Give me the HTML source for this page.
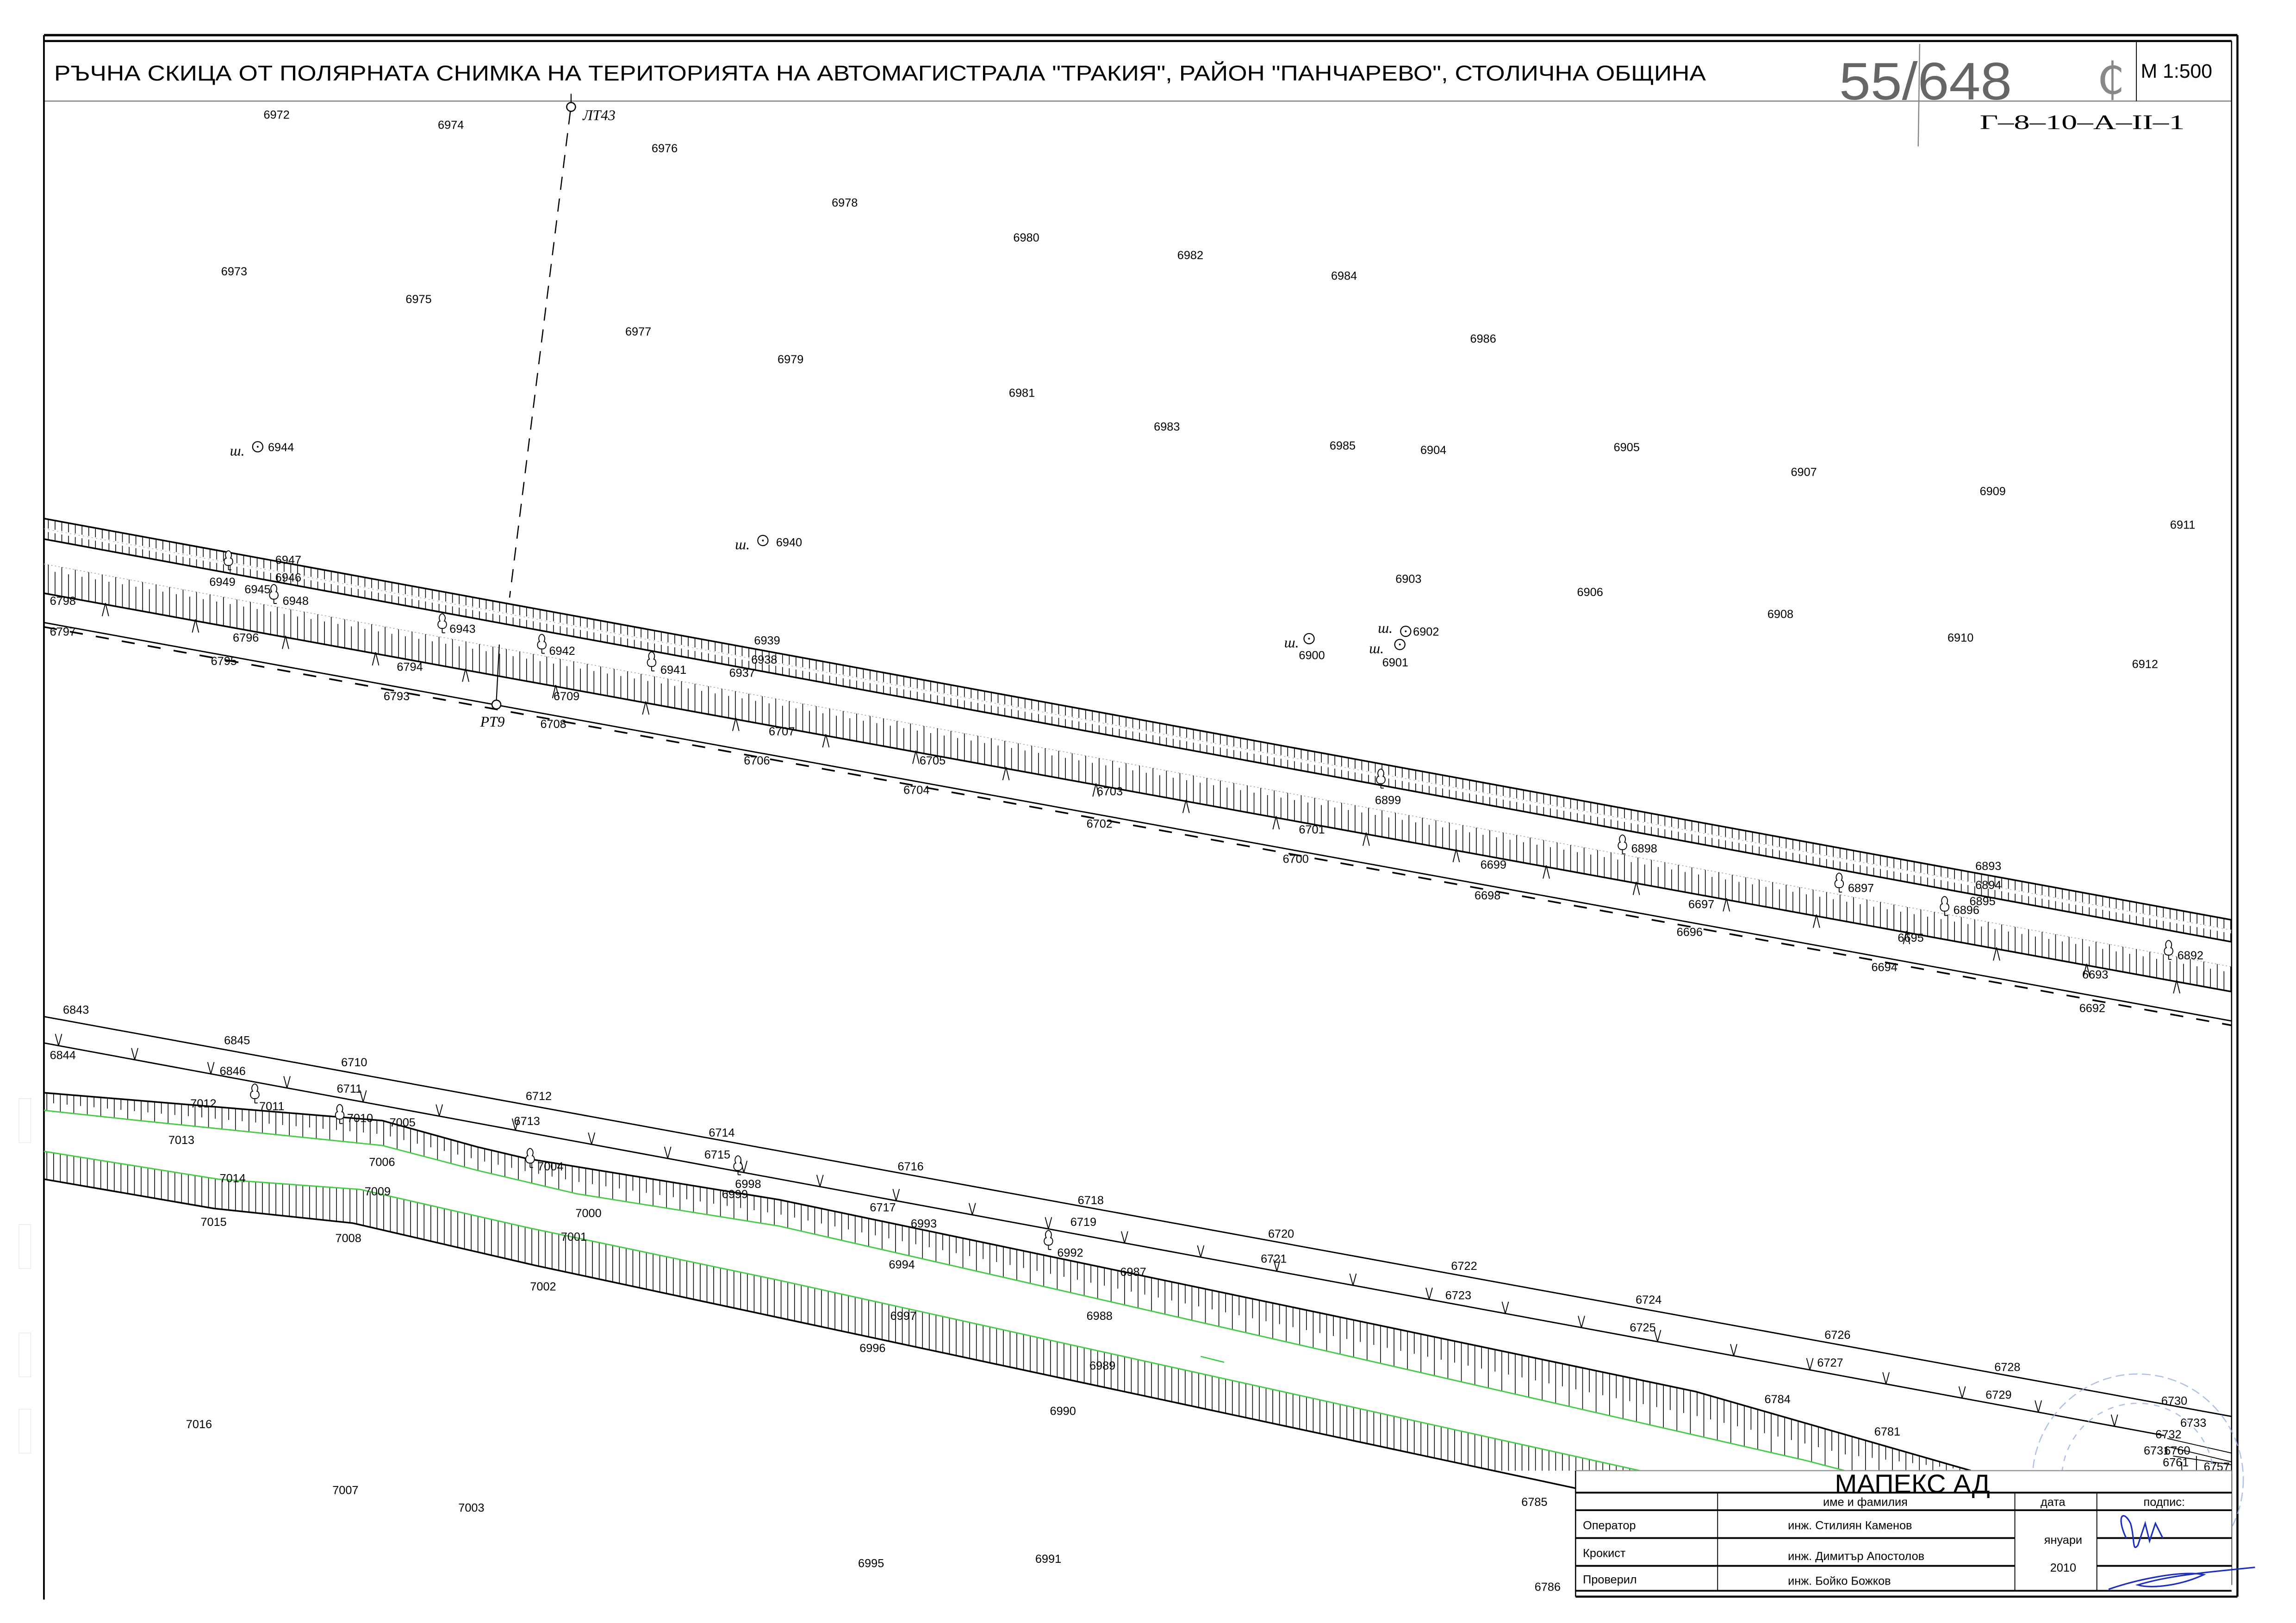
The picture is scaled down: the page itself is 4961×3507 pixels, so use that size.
<!DOCTYPE html>
<html><head><meta charset="utf-8"><style>
html,body{margin:0;padding:0;background:#fff;}
svg{display:block;}
.l{font-family:"Liberation Sans Narrow","Liberation Sans",sans-serif;font-size:8px;fill:#000;}
.i{font-family:"Liberation Serif",serif;font-style:italic;font-size:10px;fill:#000;}
</style></head><body>
<svg id="s" width="4961" height="3507" viewBox="0 0 1568 1108" preserveAspectRatio="none" xmlns="http://www.w3.org/2000/svg">
<rect width="1568" height="1108" fill="#fff"/>
<g stroke="#000" fill="none">
<line x1="30" y1="24" x2="1528" y2="24" stroke-width="1.6"/>
<line x1="30" y1="28" x2="1524" y2="28" stroke-width="1.4"/>
<line x1="30" y1="69" x2="1524" y2="69" stroke="#999" stroke-width="1"/>
<line x1="30" y1="24" x2="30" y2="1092" stroke-width="1.2"/>
<line x1="1524" y1="28" x2="1524" y2="1082" stroke-width="0.8"/>
<line x1="1528" y1="24" x2="1528" y2="1090" stroke-width="1.4"/>
<line x1="1459" y1="28" x2="1459" y2="69" stroke-width="0.6"/>
<line x1="1311" y1="30" x2="1310" y2="100" stroke="#888" stroke-width="0.8"/>
</g>
<text x="37" y="55" font-family="Liberation Sans,sans-serif" font-size="14.5" textLength="1128" lengthAdjust="spacingAndGlyphs">РЪЧНА  СКИЦА ОТ ПОЛЯРНАТА СНИМКА НА ТЕРИТОРИЯТА НА АВТОМАГИСТРАЛА "ТРАКИЯ", РАЙОН "ПАНЧАРЕВО", СТОЛИЧНА ОБЩИНА</text>
<text x="1256" y="68" font-family="Liberation Sans Narrow,Liberation Sans,sans-serif" font-size="36" fill="#666" textLength="118" lengthAdjust="spacingAndGlyphs">55/648</text>
<text x="1432" y="64" font-family="DejaVu Sans,sans-serif" font-size="30" fill="#888">₵</text>
<text x="1462" y="53" font-family="Liberation Sans,sans-serif" font-size="13.5">M 1:500</text>
<text x="1352" y="88" font-family="Liberation Serif,serif" font-size="14" textLength="140" lengthAdjust="spacingAndGlyphs">Г–8–10–А–II–1</text>

<g id="gen"></g>

<circle cx="390" cy="73" r="3" fill="#fff" stroke="#000" stroke-width="0.8"/>
<line x1="390" y1="64" x2="390" y2="70" stroke="#000" stroke-width="0.7"/>
<line x1="389.5" y1="76" x2="348" y2="408" stroke="#000" stroke-width="0.8" stroke-dasharray="9 6"/>
<text class="i" x="398" y="82">ЛТ43</text>
<line x1="341" y1="440" x2="339" y2="478" stroke="#000" stroke-width="0.7"/>
<circle cx="339" cy="481" r="3" fill="#fff" stroke="#000" stroke-width="0.8"/>
<text class="i" x="328" y="496">РТ9</text>

<g class="l">
<text x="180" y="81">6972</text><text x="299" y="88">6974</text><text x="445" y="104">6976</text>
<text x="568" y="141">6978</text><text x="692" y="165">6980</text><text x="804" y="177">6982</text>
<text x="909" y="191">6984</text><text x="151" y="188">6973</text><text x="277" y="207">6975</text>
<text x="427" y="229">6977</text><text x="531" y="248">6979</text><text x="689" y="271">6981</text>
<text x="788" y="294">6983</text><text x="1004" y="234">6986</text><text x="908" y="307">6985</text>
<text x="970" y="310">6904</text><text x="1102" y="308">6905</text><text x="1223" y="325">6907</text>
<text x="1352" y="338">6909</text><text x="1482" y="361">6911</text>
<text x="183" y="308">6944</text><text x="530" y="373">6940</text>
<text x="953" y="398">6903</text><text x="1077" y="407">6906</text><text x="1207" y="422">6908</text>
<text x="1330" y="438">6910</text><text x="1456" y="456">6912</text>
<text x="965" y="434">6902</text><text x="887" y="450">6900</text><text x="944" y="455">6901</text>

<text x="188" y="385">6947</text><text x="188" y="397">6946</text><text x="143" y="400">6949</text>
<text x="167" y="405">6945</text><text x="193" y="413">6948</text><text x="34" y="413">6798</text>
<text x="34" y="434">6797</text><text x="159" y="438">6796</text><text x="144" y="454">6795</text>
<text x="307" y="432">6943</text><text x="271" y="458">6794</text><text x="375" y="447">6942</text>
<text x="262" y="478">6793</text><text x="378" y="478">6709</text><text x="369" y="497">6708</text>
<text x="451" y="460">6941</text><text x="515" y="440">6939</text><text x="513" y="453">6938</text>
<text x="498" y="462">6937</text><text x="525" y="502">6707</text><text x="508" y="522">6706</text>
<text x="628" y="522">6705</text><text x="617" y="542">6704</text><text x="749" y="543">6703</text>
<text x="742" y="565">6702</text><text x="939" y="549">6899</text><text x="887" y="569">6701</text>
<text x="876" y="589">6700</text><text x="1114" y="582">6898</text><text x="1011" y="593">6699</text>
<text x="1007" y="614">6698</text><text x="1153" y="620">6697</text><text x="1145" y="639">6696</text>
<text x="1349" y="594">6893</text><text x="1349" y="607">6894</text><text x="1345" y="618">6895</text>
<text x="1262" y="609">6897</text><text x="1334" y="624">6896</text><text x="1296" y="643">6695</text>
<text x="1278" y="663">6694</text><text x="1422" y="668">6693</text><text x="1487" y="655">6892</text>
<text x="1420" y="691">6692</text>

<text x="43" y="692">6843</text><text x="34" y="723">6844</text><text x="153" y="713">6845</text>
<text x="150" y="734">6846</text><text x="233" y="728">6710</text><text x="230" y="746">6711</text>
<text x="130" y="756">7012</text><text x="177" y="758">7011</text><text x="237" y="766">7010</text>
<text x="266" y="769">7005</text><text x="115" y="781">7013</text><text x="359" y="751">6712</text>
<text x="351" y="768">6713</text><text x="367" y="799">7004</text><text x="252" y="796">7006</text>
<text x="484" y="776">6714</text><text x="481" y="791">6715</text><text x="502" y="811">6998</text>
<text x="493" y="818">6999</text><text x="150" y="807">7014</text><text x="249" y="816">7009</text>
<text x="393" y="831">7000</text><text x="613" y="799">6716</text><text x="594" y="827">6717</text>
<text x="622" y="838">6993</text><text x="137" y="837">7015</text><text x="229" y="848">7008</text>
<text x="383" y="847">7001</text><text x="736" y="822">6718</text><text x="731" y="837">6719</text>
<text x="722" y="858">6992</text><text x="607" y="866">6994</text><text x="362" y="881">7002</text>
<text x="765" y="871">6987</text><text x="866" y="845">6720</text><text x="861" y="862">6721</text>
<text x="742" y="901">6988</text><text x="991" y="867">6722</text><text x="987" y="887">6723</text>
<text x="1117" y="890">6724</text><text x="1113" y="909">6725</text><text x="608" y="901">6997</text>
<text x="587" y="923">6996</text><text x="744" y="935">6989</text><text x="717" y="966">6990</text>
<text x="1246" y="914">6726</text><text x="1241" y="933">6727</text><text x="1362" y="936">6728</text>
<text x="1356" y="955">6729</text><text x="1205" y="958">6784</text><text x="1280" y="980">6781</text>
<text x="1476" y="959">6730</text><text x="1489" y="974">6733</text><text x="1472" y="982">6732</text>
<text x="1464" y="993">6731</text><text x="1478" y="993">6760</text><text x="1477" y="1001">6761</text>
<text x="1505" y="1004">6757</text>
<text x="1039" y="1028">6785</text><text x="1048" y="1086">6786</text><text x="127" y="975">7016</text>
<text x="227" y="1020">7007</text><text x="313" y="1032">7003</text><text x="586" y="1070">6995</text>
<text x="707" y="1067">6991</text>
</g>
<g class="i">
<text x="157" y="311">ш.</text><text x="502" y="375">ш.</text><text x="941" y="432">ш.</text>
<text x="877" y="442">ш.</text><text x="935" y="446">ш.</text>
</g>
<g fill="none" stroke="#000" stroke-width="0.7">
<circle cx="176" cy="305" r="3.5"/><circle cx="521" cy="369" r="3.5"/><circle cx="960" cy="431" r="3.5"/>
<circle cx="894" cy="436" r="3.5"/><circle cx="956" cy="440" r="3.5"/>
</g>
<g fill="#000"><circle cx="176" cy="305" r="0.6"/><circle cx="521" cy="369" r="0.6"/><circle cx="960" cy="431" r="0.6"/><circle cx="894" cy="436" r="0.6"/><circle cx="956" cy="440" r="0.6"/></g>

<line x1="820" y1="926" x2="836" y2="930" stroke="#3c3" stroke-width="0.8"/>

<g fill="none" stroke="#9ab0e8" stroke-width="0.8" opacity="0.8">
<circle cx="1460" cy="1010" r="72" stroke-dasharray="6 3"/>
<circle cx="1460" cy="1010" r="52" stroke-dasharray="4 4"/>
</g>

<rect x="1076" y="1004" width="448" height="86" fill="#fff"/>
<g stroke="#000" fill="none">
<line x1="1076" y1="1004" x2="1524" y2="1004" stroke="#999" stroke-width="0.8"/>
<line x1="1076" y1="1019" x2="1524" y2="1019" stroke-width="1.2"/>
<line x1="1076" y1="1031" x2="1524" y2="1031" stroke-width="1.2"/>
<line x1="1076" y1="1050" x2="1376" y2="1050" stroke-width="1.2"/>
<line x1="1432" y1="1050" x2="1524" y2="1050" stroke-width="1.2"/>
<line x1="1076" y1="1069" x2="1376" y2="1069" stroke-width="1.2"/>
<line x1="1432" y1="1069" x2="1524" y2="1069" stroke-width="1.2"/>
<line x1="1076" y1="1086" x2="1524" y2="1086" stroke-width="1.2"/>
<line x1="1076" y1="1090" x2="1528" y2="1090" stroke-width="1.4"/>
<line x1="1076" y1="1004" x2="1076" y2="1090" stroke-width="0.8"/>
<line x1="1173" y1="1019" x2="1173" y2="1086" stroke-width="0.6"/>
<line x1="1376" y1="1019" x2="1376" y2="1086" stroke-width="0.6"/>
<line x1="1432" y1="1019" x2="1432" y2="1086" stroke-width="0.6"/>
</g>
<g font-family="Liberation Sans Narrow,Liberation Sans,sans-serif" fill="#000">
<text x="1253" y="1019" font-size="18" font-family="Liberation Sans,sans-serif" textLength="106" lengthAdjust="spacingAndGlyphs">МАПЕКС   АД</text>
<text x="1245" y="1028" font-size="8">име и фамилия</text>
<text x="1402" y="1028" font-size="8" text-anchor="middle">дата</text>
<text x="1478" y="1028" font-size="8" text-anchor="middle">подпис:</text>
<text x="1081" y="1044" font-size="8">Оператор</text>
<text x="1081" y="1063" font-size="8">Крокист</text>
<text x="1081" y="1081" font-size="8">Проверил</text>
<text x="1221" y="1044" font-size="8">инж. Стилиян Каменов</text>
<text x="1221" y="1065" font-size="8">инж. Димитър Апостолов</text>
<text x="1221" y="1082" font-size="8">инж. Бойко Божков</text>
<text x="1409" y="1054" font-size="8" text-anchor="middle">януари</text>
<text x="1409" y="1073" font-size="8" text-anchor="middle">2010</text>
</g>
<g fill="none" stroke="#1a2fc0" stroke-width="1">
<path d="M1452 1050 C1445 1035 1450 1030 1455 1040 C1458 1050 1456 1060 1460 1055 L1465 1040 L1468 1052 L1472 1040 L1477 1050"/>
<path d="M1440 1085 C1460 1078 1490 1072 1505 1075 C1490 1082 1470 1085 1460 1082 C1480 1076 1500 1074 1540 1070"/>
</g>
<g fill="none" stroke="#eee" stroke-width="0.6">
<rect x="13" y="750" width="8" height="30"/><rect x="13" y="836" width="8" height="30"/>
<rect x="13" y="910" width="8" height="30"/><rect x="13" y="962" width="8" height="30"/>
</g>
</svg>
<script>
(function(){
var NS="http://www.w3.org/2000/svg",g=document.getElementById("gen");
function el(n,a){var e=document.createElementNS(NS,n);for(var k in a)e.setAttribute(k,a[k]);g.appendChild(e);return e;}
function line(x1,y1,x2,y2,w,c,da){var a={x1:x1,y1:y1,x2:x2,y2:y2,stroke:c||"#000","stroke-width":w||0.5};if(da)a["stroke-dasharray"]=da;el("line",a);}
function pl(pts,w,c,da){var a={points:pts.map(function(p){return p.join(",")}).join(" "),fill:"none",stroke:c||"#000","stroke-width":w||1};if(da)a["stroke-dasharray"]=da;el("polyline",a);}
function yat(pts,x){for(var i=0;i<pts.length-1;i++){var a=pts[i],b=pts[i+1];if(x>=a[0]&&x<=b[0])return a[1]+(b[1]-a[1])*(x-a[0])/(b[0]-a[0]);}return null;}
var X0=30,X1=1524;
function L(y0,y1){return [[X0,y0],[X1,y1]];}
var L1=L(354,628),L2=L(368,643),L3=L(385,660),L4=L(405,677),L5=L(425,697);
for(var x=33,i=0;x<X1;x+=4.6,i++){var a=yat(L1,x),b=yat(L2,x);
 line(x,a,x,a+(b-a)*0.45,0.5);line(x,a+(b-a)*0.62,x,b,0.5);}
pl(L1,1.1);pl(L2,1.1);
pl(L(361,635),0.4,"#aaa","1 2");
pl(L3,0.5,"#aaa","1 1.5");
for(var x=33,i=0;x<X1;x+=4.6,i++){var a=yat(L3,x),b=yat(L4,x);line(x,a+(i%2?4:0),x,b,0.5);}
pl(L4,1.1);
for(var x=72;x<X1;x+=61.5){var y=yat(L4,x);line(x-2.2,y+8,x,y-1,0.6);line(x,y-1,x+2.2,y+8,0.6);}
pl(L5,0.9);
pl(L(428,700),1.1,"#000","9 9");
var U1=[[30,694],[1524,967]],U2=[[30,712],[1478,980]];
pl(U1,0.9);pl(U2,0.9);
for(var x=40;x<1470;x+=52){var y=yat(U2,x);line(x-2.2,y-8,x,y,0.6);line(x,y,x+2.2,y-8,0.6);}
pl([[1480,982],[1524,992]],0.6);pl([[1482,988],[1524,998]],0.6);pl([[1484,994],[1524,1000]],0.6);
line(1490,998,1490,1004,0.6);line(1500,994,1500,1004,0.6);
var At=[[30,746],[261,765],[326,783],[360,791],[532,819],[1158,950],[1346,1004]];
var Ag=[[30,758],[95,765],[261,782],[326,799],[394,815],[532,837],[1233,997],[1260,1004]];
var Bt=[[30,786],[149,805],[246,812],[360,838],[532,874],[1120,1004]];
var Bb=[[30,805],[146,825],[241,835],[366,864],[1076,1016]];
for(var x=32,i=0;x<1346;x+=4.6,i++){var a=yat(At,x),b=yat(Ag,x);if(b===null)b=1004;if(b>1004)b=1004;if(a>=1004)continue;line(x,a,x,i%2?a+(b-a)*0.55:b,0.5);}
for(var x=32,i=0;x<1120;x+=4.6,i++){var a=yat(Bt,x),b=yat(Bb,x);if(b===null||b>1004)b=1004;if(a>=1004)continue;line(x,a,x,b,0.5);}
pl(At,1.1);pl(Ag,0.9,"#4c4");pl(Bt,0.9,"#4c4");pl(Bb,1.1);
var T=[[156,384],[187,407],[302,427],[370,441],[445,453],[943,533],[1108,578],[1256,604],[1328,620],[1481,650],[174,748],[232,762],[362,792],[504,797],[716,848]];
T.forEach(function(t){var x=t[0],y=t[1];
 el("path",{d:"M"+(x-1)+" "+(y+2)+" C"+(x-4)+" "+(y+1)+" "+(x-3)+" "+(y-3)+" "+(x-1.5)+" "+(y-3)+" C"+(x-3)+" "+(y-6)+" "+(x-1)+" "+(y-8)+" "+x+" "+(y-8)+" C"+(x+1)+" "+(y-8)+" "+(x+3)+" "+(y-6)+" "+(x+1.5)+" "+(y-3)+" C"+(x+3)+" "+(y-3)+" "+(x+4)+" "+(y+1)+" "+(x+1)+" "+(y+2)+" Z",fill:"#fff",stroke:"#000","stroke-width":0.6});
 line(x,y+2,x,y+5,0.6);line(x,y+5,x+2,y+5,0.6);});
})();
</script>
</body></html>
